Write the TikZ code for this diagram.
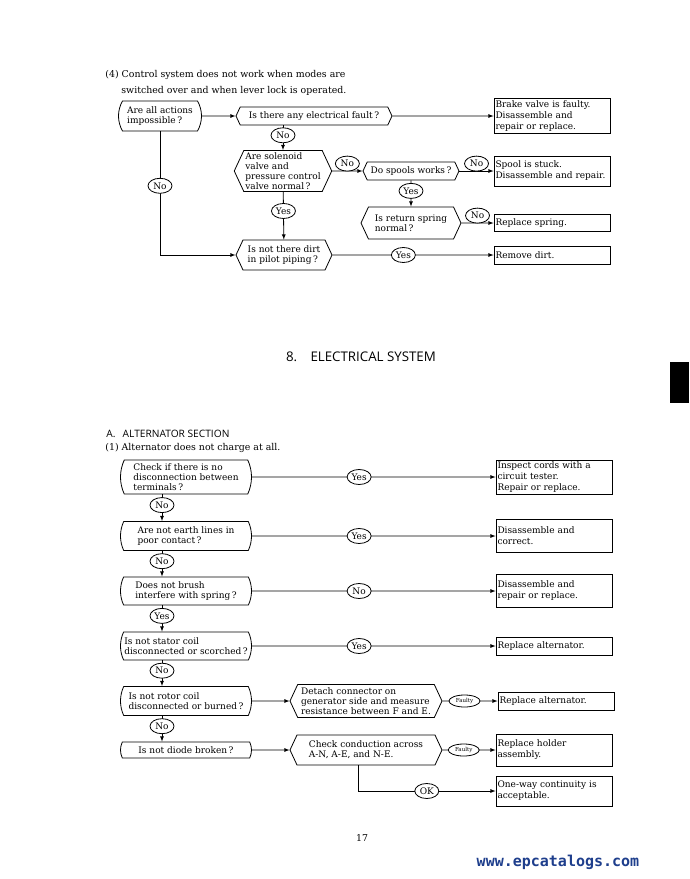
\documentclass[tikz,border=0pt]{standalone}
\usepackage{fontspec}
\setmainfont{DejaVu Serif}
\usetikzlibrary{arrows,shapes}
\usetikzlibrary{shapes.symbols,shapes.misc,shapes.geometric}
\newfontfamily\headfont{Open Sans}
\newfontfamily\wmfont{DejaVu Sans Mono}
\definecolor{wmblue}{RGB}{30,62,140}
\tikzstyle{txt}=[font=\fontsize{9.4}{10.5}\selectfont,inner sep=0pt]
\tikzstyle{question}=[rounded rectangle,rounded rectangle arc length=60,draw,align=left,inner sep=1.5pt,font=\fontsize{9}{10}\selectfont]
\tikzstyle{check}=[signal,signal to=east and west,signal pointer angle=130,draw,align=left,inner sep=1.5pt,font=\fontsize{9}{10}\selectfont]
\tikzstyle{remedy}=[rectangle,draw,text width=113pt,align=left,inner sep=1.5pt,font=\fontsize{9}{11}\selectfont]
\tikzstyle{edge} = [draw,line width=0.8pt,-latex]
\tikzstyle{answer} = [ellipse,draw,fill=white,line width=0.8pt,inner sep=0pt,minimum width=24pt,minimum height=15pt,font=\fontsize{9}{9}\selectfont]
\tikzstyle{fault} = [answer,minimum width=31pt,minimum height=12pt,font=\fontsize{5.5}{6}\selectfont]

\begin{document}
\begin{tikzpicture}[x=1pt,y=-1pt,line width=0.8pt]
\useasboundingbox (0,0) rectangle (689,879);

% (4) control system
\node[txt,anchor=west] (head4a) at (105,75) {(4) Control system does not work when modes are};
\node[txt,anchor=west] (head4b) at (121,91) {switched over and when lever lock is operated.};

\node[question,minimum width=86,minimum height=30] (allact) at (160,116) {Are all actions\\impossible\,?};

\foreach \pos/\name/\w/\h/\txt in {{(314,116)/elec/156/18/{Is there any electrical fault\,?}},
    {(283,171)/solen/94/41/{Are solenoid\\valve and\\pressure control\\valve normal\,?}},
    {(411,171)/spools/96/18/{Do spools works\,?}},
    {(411,223)/spring/100/32/{Is return spring\\normal\,?}},
    {(284,255)/dirt/96/30/{Is not there dirt\\in pilot piping\,?}}}
    \node[check,minimum width=\w,minimum height=\h] (\name) at \pos {\txt};

\foreach \pos/\name/\h/\txt in {{(552,116)/brake/35/{Brake valve is faulty.\\Disassemble and\\repair or replace.}},
    {(552,171)/stuck/30/{Spool is stuck.\\Disassemble and repair.}},
    {(552,223)/replspring/17/{Replace spring.}},
    {(552,255)/remdirt/18/{Remove dirt.}}}
    \node[remedy,minimum height=\h] (\name) at \pos {\txt};

% connect the checks
\path[edge] (allact) -- (elec);
\path[edge] (elec) -- (brake);
\path[edge] (elec.south -| solen.north) -- node[answer,pos=0.4] {No} (solen.north);
\path[edge] (solen) -- node[answer,above=-0.5pt] {No} (spools);
\path[edge] (spools) -- node[answer,above=-0.5pt] {No} (stuck);
\path[edge] (spools) -- node[answer,pos=0.4] {Yes} (spring);
\path[edge] (spring) -- node[answer,above=-0.5pt] {No} (replspring);
\path[edge] (solen) -- node[answer,pos=0.4] {Yes} (dirt);
\path[edge] (allact.south) |- node[answer,pos=0.22] {No} (dirt.west);
\path[edge] (dirt) -- node[answer,pos=0.44] {Yes} (remdirt);

% section heading
\node[font=\headfont\fontsize{13.3}{14}\selectfont] (sect) at (361,357) {8.\hspace{1.0em}ELECTRICAL SYSTEM};
\fill (670,362) rectangle (689,403);

% A. alternator section
\node[anchor=west,font=\headfont\fontsize{10.2}{11}\selectfont,inner sep=0pt] (headA) at (106,434) {A.\hspace{0.7em}ALTERNATOR SECTION};
\node[txt,anchor=west] (headA1) at (105,448) {(1) Alternator does not charge at all.};

\foreach \pos/\name/\h/\txt in {{(186,477)/terminal/34/{Check if there is no\\disconnection between\\terminals\,?}},
    {(186,536)/earth/29/{Are not earth lines in\\poor contact\,?}},
    {(186,591)/brush/28/{Does not brush\\interfere with spring\,?}},
    {(186,646)/stator/28/{Is not stator coil\\disconnected or scorched\,?}},
    {(186,701)/rotor/29/{Is not rotor coil\\disconnected or burned\,?}},
    {(186,750)/diode/16/{Is not diode broken\,?}}}
    \node[question,rounded rectangle arc length=50,minimum width=134,minimum height=\h] (\name) at \pos {\txt};

\node[check,minimum width=152,minimum height=33] (measure) at (366,701) {Detach connector on\\generator side and measure\\resistance between F and E.};
\node[check,minimum width=152,minimum height=30] (conduct) at (366,750) {Check conduction across\\A-N, A-E, and N-E.};

\foreach \pos/\name/\h/\txt in {{(554,477)/cords/34/{Inspect cords with a\\circuit tester.\\Repair or replace.}},
    {(554,536)/correct/33/{Disassemble and\\correct.}},
    {(554,591)/repair/33/{Disassemble and\\repair or replace.}},
    {(554,646)/replalt/18/{Replace alternator.}},
    {(556,701)/replaltb/18/{Replace alternator.}},
    {(554,750)/holder/32/{Replace holder\\assembly.}},
    {(554,791)/oneway/30/{One-way continuity is\\acceptable.}}}
    \node[remedy,minimum height=\h] (\name) at \pos {\txt};

\foreach \source/\dest/\weight in {terminal/cords/Yes, earth/correct/Yes, brush/repair/No, stator/replalt/Yes}
    \path[edge] (\source) -- node[answer,pos=0.44] {\weight} (\dest);

\foreach \source/\dest/\weight in {terminal/earth/No, earth/brush/No, brush/stator/Yes, stator/rotor/No, rotor/diode/No}
    \path[edge] ([xshift=-24]\source.south) -- node[answer,pos=0.4] {\weight} ([xshift=-24]\dest.north);

\path[edge] (rotor) -- (measure);
\path[edge] (measure) -- node[fault,pos=0.4] {Faulty} (replaltb);
\path[edge] (diode) -- (conduct);
\path[edge] (conduct) -- node[fault,pos=0.4] {Faulty} (holder);
\path[edge] ([xshift=-8]conduct.south) |- node[answer,pos=0.75] {OK} (oneway.west);

% page foot
\node[txt] (pagenum) at (362,838) {17};
\node[font=\wmfont\bfseries\fontsize{15}{15}\selectfont,text=wmblue] (wmark) at (558,862) {www.epcatalogs.com};
\end{tikzpicture}
\end{document}
